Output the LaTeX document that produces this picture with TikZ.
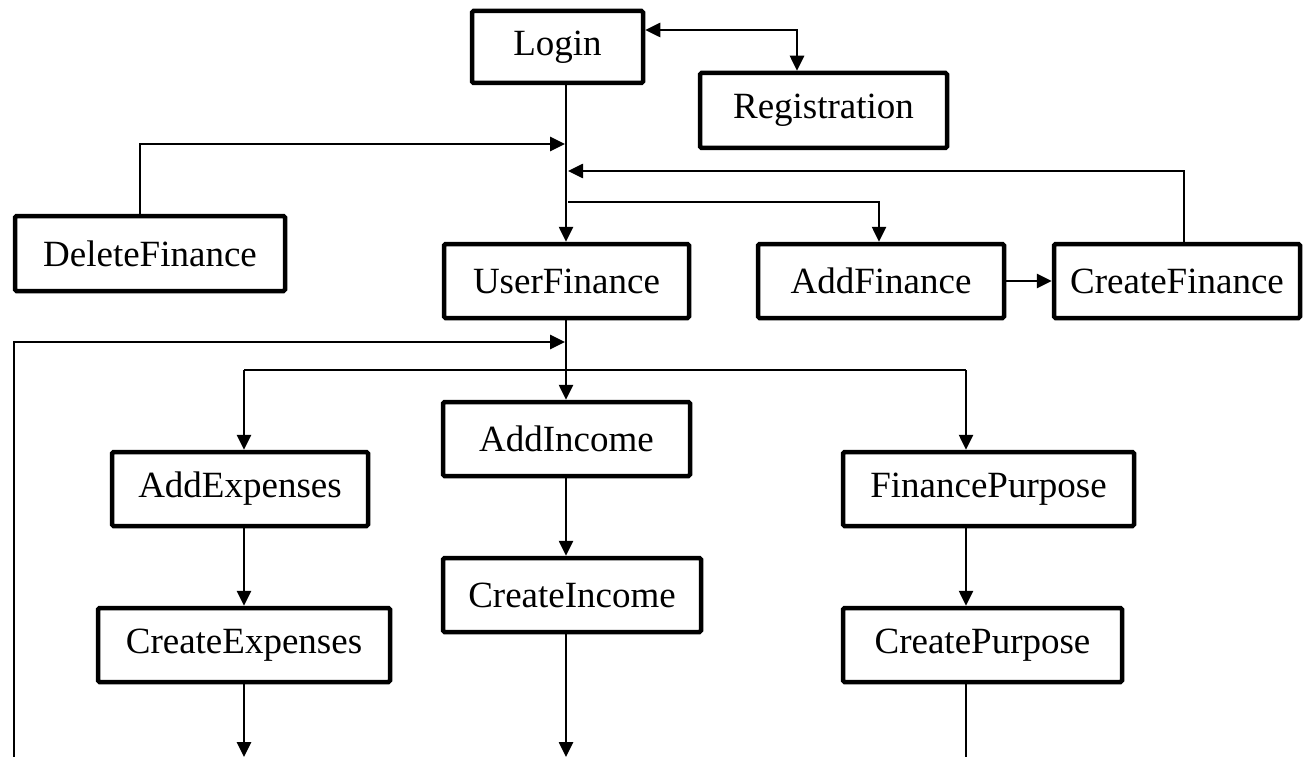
\documentclass[tikz,border=0pt]{standalone}
\usepackage{fontspec}
\setmainfont{Liberation Serif}
\usetikzlibrary{arrows.meta}
\begin{document}
\begin{tikzpicture}[x=1pt,y=-1pt,
  box/.style={draw, line width=4.5pt, rounded corners=1.5pt, inner sep=0pt,
    font=\fontsize{37}{40}\selectfont, minimum height=74pt},
  conn/.style={line width=2.6pt},
  arr/.style={conn, -{Triangle[length=15pt,width=14pt]}},
  biarr/.style={conn, {Triangle[length=15pt,width=14pt]}-{Triangle[length=15pt,width=14pt]}}
]
\useasboundingbox (0,0) rectangle (1304,757);

\node[box, minimum width=171pt, minimum height=72pt] (login) at (557.5,47) {Login};
\node[box, minimum width=247pt, minimum height=75pt] (reg) at (823.5,110.5) {Registration};
\node[box, minimum width=270pt, minimum height=75pt] (del) at (150,253.5) {DeleteFinance};
\node[box, minimum width=245pt] (uf) at (566.5,281) {UserFinance};
\node[box, minimum width=246pt] (af) at (881,281) {AddFinance};
\node[box, minimum width=246pt] (cf) at (1177,281) {CreateFinance};
\node[box, minimum width=247pt] (ai) at (566.5,439) {AddIncome};
\node[box, minimum width=258pt] (ci) at (572,595) {CreateIncome};
\node[box, minimum width=256pt] (ae) at (240,489) {AddExpenses};
\node[box, minimum width=292pt] (ce) at (244,645) {CreateExpenses};
\node[box, minimum width=291pt] (fp) at (988.5,489) {FinancePurpose};
\node[box, minimum width=279pt] (cp) at (982.5,645) {CreatePurpose};

\coordinate (rj) at (797,30);
\coordinate (tk) at (566,0);
\coordinate (dl) at (140,144);
\coordinate (dr) at (565,144);
\coordinate (cr) at (1184,171);
\coordinate (cl) at (568,171);
\coordinate (al) at (568,202);
\coordinate (ar) at (879,202);
\coordinate (lb) at (14,757);
\coordinate (lt) at (14,342);
\coordinate (lr) at (565,342);
\coordinate (bl) at (244,370);
\coordinate (br) at (966,370);

\draw[biarr] (login.east |- rj) -- (rj) -- (reg.north -| rj);
\draw[arr] (login.south -| tk) -- (uf.north -| tk);
\draw[arr] (del.north -| dl) -- (dl) -- (dr);
\draw[arr] (cf.north -| cr) -- (cr) -- (cl);
\draw[arr] (al) -- (ar) -- (af.north -| ar);
\draw[arr] (af.east) -- (cf.west);
\draw[arr] (uf.south -| tk) -- (ai.north -| tk);
\draw[arr] (lb) -- (lt) -- (lr);
\draw[conn] (bl) -- (br);
\draw[arr] (bl) -- (ae.north -| bl);
\draw[arr] (br) -- (fp.north -| br);
\draw[arr] (ae.south -| bl) -- (ce.north -| bl);
\draw[arr] (ai.south -| tk) -- (ci.north -| tk);
\draw[arr] (fp.south -| br) -- (cp.north -| br);
\draw[arr] (ce.south -| bl) -- (bl |- lb);
\draw[arr] (ci.south -| tk) -- (tk |- lb);
\draw[conn] (cp.south -| br) -- (br |- lb);
\end{tikzpicture}
\end{document}
